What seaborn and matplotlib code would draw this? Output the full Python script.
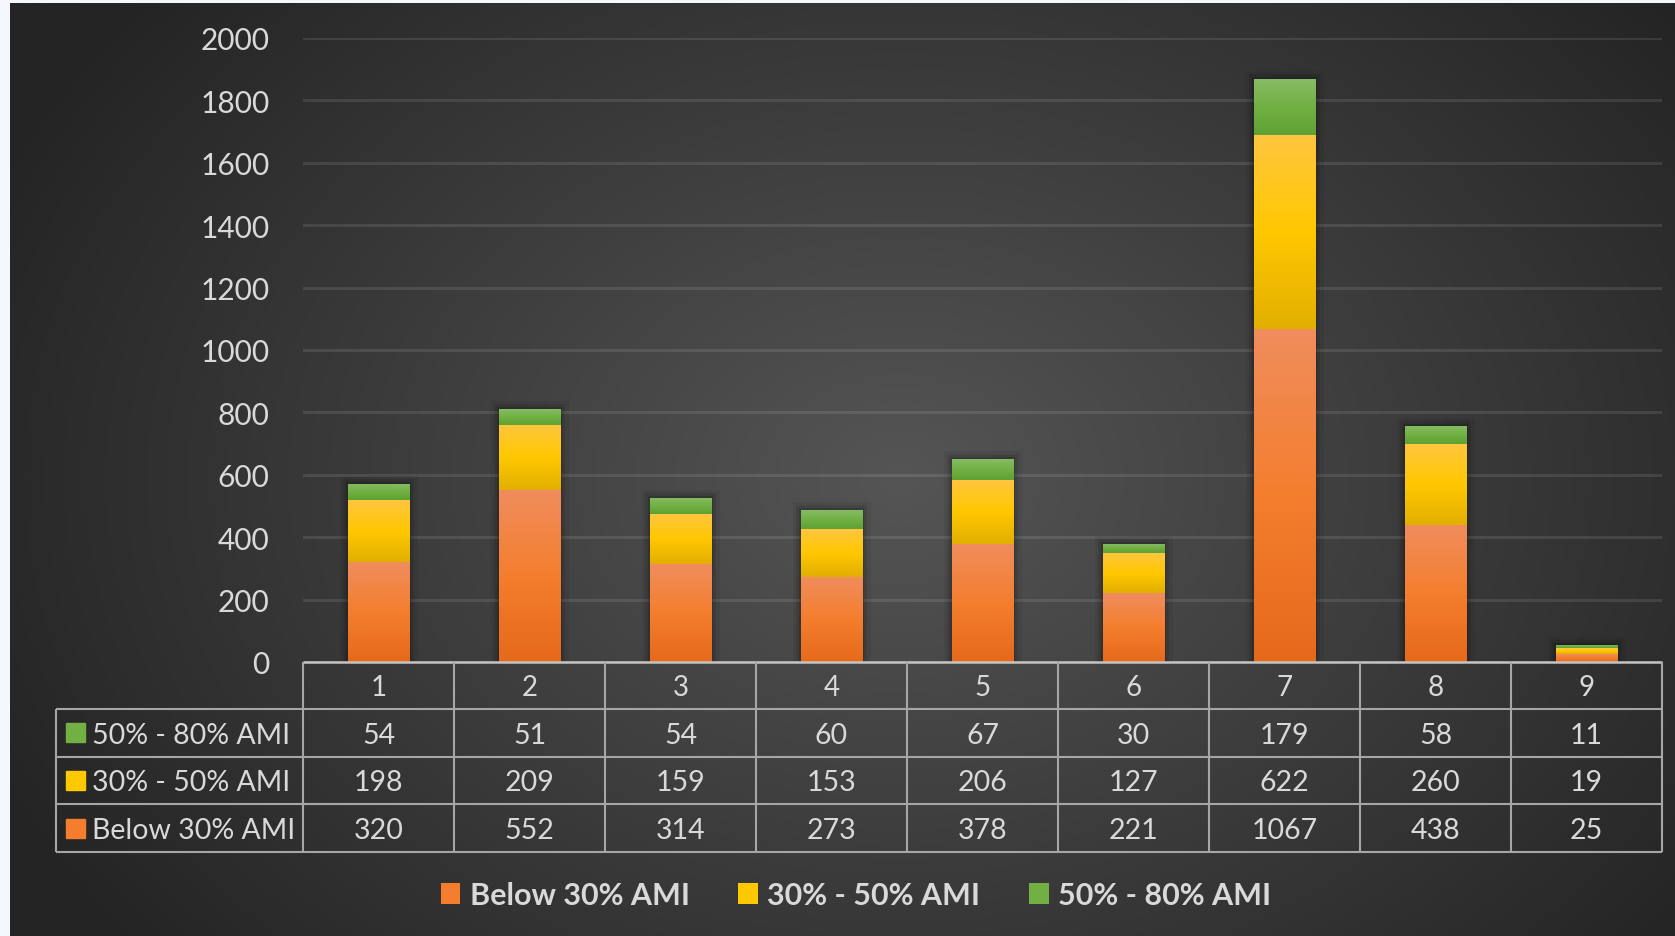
import numpy as np
import pandas as pd
import matplotlib
matplotlib.use("Agg")
import matplotlib.pyplot as plt
import seaborn as sns
import matplotlib.patheffects as pe
from matplotlib.colors import LinearSegmentedColormap
from matplotlib.patches import Patch, Rectangle

# ---------------- data ----------------
categories = ["1", "2", "3", "4", "5", "6", "7", "8", "9"]
below_30 = [320, 552, 314, 273, 378, 221, 1067, 438, 25]
ami_30_50 = [198, 209, 159, 153, 206, 127, 622, 260, 19]
ami_50_80 = [54, 51, 54, 60, 67, 30, 179, 58, 11]
series_names = ["Below 30% AMI", "30% - 50% AMI", "50% - 80% AMI"]
y_ticks = [0, 200, 400, 600, 800, 1000, 1200, 1400, 1600, 1800, 2000]

# ---------------- style ----------------
plt.rcParams["font.family"] = ["Lato", "DejaVu Sans"]
TXT = "#d9d9d9"
ORANGE = ["#f08d5d", "#f47e2e", "#e6691b"]
YELLOW = ["#ffc540", "#ffc800", "#e2af00"]
GREEN = ["#86bc66", "#72b043", "#5fa134"]

W, H = 1675, 937
fig = plt.figure(figsize=(W / 100, H / 100), dpi=100, facecolor="#f4f7fe")

# background radial gradient panel
bg = fig.add_axes([10 / W, 0, (W - 10) / W, (H - 4) / H], zorder=0)
gx = np.linspace(10, W, 400)
gy = np.linspace(4, H, 240)
XX, YY = np.meshgrid(gx, gy)
d = np.sqrt(((XX - 900) / 1000) ** 2 + ((YY - 480) / 750) ** 2)
d = np.clip(d, 0, 1)
val = (0x55 - d * (0x55 - 0x24)) / 255.0
img = np.dstack([val, val, val])
bg.imshow(img, extent=[0, 1, 0, 1], aspect="auto", interpolation="bilinear", origin="upper")
bg.set_axis_off()

# main axes
L, R, T, B = 303, 1662, 39, 663
ax = fig.add_axes([L / W, (H - B) / H, (R - L) / W, (B - T) / H], zorder=2)
ax.patch.set_alpha(0)

df = pd.DataFrame({"district": categories, "below": below_30, "mid": ami_30_50, "high": ami_50_80})
df["low_mid"] = df["below"] + df["mid"]
df["total"] = df["low_mid"] + df["high"]

bw = 0.41
sns.barplot(data=df, x="district", y="total", color=GREEN[1], width=bw, saturation=1,
            errorbar=None, ax=ax, zorder=2)
sns.barplot(data=df, x="district", y="low_mid", color=YELLOW[1], width=bw, saturation=1,
            errorbar=None, ax=ax, zorder=3)
sns.barplot(data=df, x="district", y="below", color=ORANGE[1], width=bw, saturation=1,
            errorbar=None, ax=ax, zorder=4)

n = len(categories)
green_p = ax.patches[0:n]
yellow_p = ax.patches[n:2 * n]
orange_p = ax.patches[2 * n:3 * n]

grad = np.linspace(0, 1, 256).reshape(-1, 1)
def add_grad(patch, y0, y1, colors, z):
    cmap = LinearSegmentedColormap.from_list("g", colors)
    x0 = patch.get_x()
    x1 = x0 + patch.get_width()
    im = ax.imshow(grad, extent=[x0, x1, y0, y1], aspect="auto", cmap=cmap,
                   origin="upper", zorder=z, interpolation="bilinear")
    im.set_clip_path(patch)

for i in range(n):
    gp, yp, op = green_p[i], yellow_p[i], orange_p[i]
    gp.set_zorder(2); yp.set_zorder(3); op.set_zorder(4)
    gp.set_path_effects([pe.Stroke(linewidth=12, foreground="black", alpha=0.06),
                         pe.Stroke(linewidth=7, foreground="black", alpha=0.10),
                         pe.Stroke(linewidth=3, foreground="black", alpha=0.15),
                         pe.Normal()])
    add_grad(gp, yp.get_height(), gp.get_height(), GREEN, 2.1)
    add_grad(yp, op.get_height(), yp.get_height(), YELLOW, 3.1)
    add_grad(op, 0, op.get_height(), ORANGE, 4.1)

ax.set_xlim(-0.5, n - 0.5)
ax.set_ylim(0, 2000)
ax.set_yticks(y_ticks)
ax.set_yticklabels([str(t) for t in y_ticks])
ax.grid(axis="y", color="white", alpha=0.1, linewidth=2.2)
ax.grid(axis="x", visible=False)
ax.set_axisbelow(True)
for s in ax.spines.values():
    s.set_visible(False)
ax.set_xlabel("")
ax.set_ylabel("")
ax.tick_params(axis="y", length=0, pad=24, labelsize=21.5, labelcolor=TXT)
ax.tick_params(axis="x", length=0, pad=18, labelsize=20, labelcolor=TXT)
for lbl in ax.get_xticklabels():
    lbl.set_va("center")

# ---------------- data table (overlay in pixel coords) ----------------
ov = fig.add_axes([0, 0, 1, 1], zorder=5)
ov.set_xlim(0, W)
ov.set_ylim(H, 0)
ov.set_axis_off()
ov.patch.set_alpha(0)

LINE = "#a6a6a6"
col_w = (R - L) / n
rows_y = [663, 710, 757.5, 805, 853]
lab_left = 56
ov.plot([L, R], [663, 663], color="#c4c4c4", lw=1.8, solid_capstyle="butt")
for yy in rows_y[1:]:
    ov.plot([lab_left, R], [yy, yy], color=LINE, lw=1.5, solid_capstyle="butt")
for i in range(n + 1):
    xx = L + i * col_w
    ov.plot([xx, xx], [663, 853], color=LINE, lw=1.5, solid_capstyle="butt")
ov.plot([lab_left, lab_left], [710, 853], color=LINE, lw=1.5, solid_capstyle="butt")

table_rows = [(series_names[2], ami_50_80, GREEN[1]),
              (series_names[1], ami_30_50, YELLOW[1]),
              (series_names[0], below_30, ORANGE[1])]
for r, (name, vals, colr) in enumerate(table_rows):
    yc = (rows_y[r + 1] + rows_y[r + 2]) / 2
    ov.add_patch(Rectangle((66, yc - 9.5), 19, 19, color=colr))
    ov.text(92, yc + 2, name, color=TXT, fontsize=20.5, va="center", ha="left")
    for i, v in enumerate(vals):
        ov.text(L + (i + 0.5) * col_w, yc + 2, str(v), color=TXT, fontsize=20.5,
                va="center", ha="center")

# ---------------- legend ----------------
handles = [Patch(facecolor=ORANGE[1], label=series_names[0]),
           Patch(facecolor=YELLOW[1], label=series_names[1]),
           Patch(facecolor=GREEN[1], label=series_names[2])]
leg = fig.legend(handles=handles, loc="center", bbox_to_anchor=(856 / W, 1 - 896 / H),
                 ncol=3, frameon=False, handlelength=0.65, handleheight=0.7,
                 handletextpad=0.3, columnspacing=1.6,
                 prop={"family": ["Lato", "DejaVu Sans"], "weight": "bold", "size": 22})
for t in leg.get_texts():
    t.set_color(TXT)

fig.savefig("out.png", dpi=100, facecolor=fig.get_facecolor())
